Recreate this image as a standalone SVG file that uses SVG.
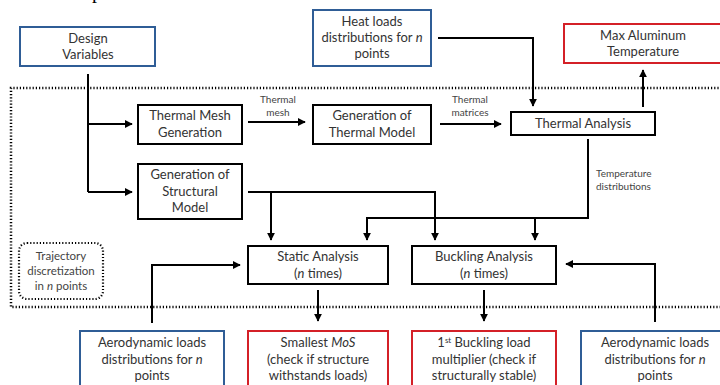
<svg xmlns="http://www.w3.org/2000/svg" width="720" height="385" viewBox="0 0 720 385">
  <defs>
    <marker id="arr" viewBox="0 0 10 10" refX="9" refY="5" markerWidth="4" markerHeight="4" orient="auto-start-reverse" markerUnits="strokeWidth">
      <path d="M0,0 L10,5 L0,10 z" fill="#000"/>
    </marker>
    <style>
      .box { fill: #fff; stroke: #000; stroke-width: 2; }
      .in { fill: #fff; stroke: #2f5d96; stroke-width: 2; }
      .out { fill: #fff; stroke: #d42027; stroke-width: 2; }
      .t { font-family: Lato, "Open Sans", "Liberation Sans", sans-serif; font-size: 13px; fill: #333; text-anchor: middle; }
      .s { font-family: Lato, "Open Sans", "Liberation Sans", sans-serif; font-size: 10px; fill: #444; text-anchor: middle; }
      .sl { font-family: Lato, "Open Sans", "Liberation Sans", sans-serif; font-size: 10px; fill: #444; text-anchor: start; }
      .tr { font-family: Lato, "Open Sans", "Liberation Sans", sans-serif; font-size: 11.5px; fill: #444; text-anchor: middle; }
      .ln { fill: none; stroke: #000; stroke-width: 2; }
      .dot { fill: none; stroke: #000; stroke-width: 2.5; stroke-dasharray: 1.2 2; }
    </style>
  </defs>

  <rect width="720" height="385" fill="#fff"/>

  <!-- descender of a caption cut by the frame -->
  <text x="92" y="-2" font-family="Liberation Serif, serif" font-size="20" fill="#000">p</text>

  <!-- loop boundary (dotted frame) -->
  <path class="dot" d="M725,88 H11 V307 H725"/>

  <!-- connectors -->
  <g id="connectors">
    <path class="ln" d="M88,74 V192"/>
    <path class="ln" d="M88,124 H132" marker-end="url(#arr)"/>
    <path class="ln" d="M88,192 H132" marker-end="url(#arr)"/>
    <path class="ln" d="M248,122 H305" marker-end="url(#arr)"/>
    <path class="ln" d="M440,124 H501" marker-end="url(#arr)"/>
    <path class="ln" d="M438,38 H533 V106" marker-end="url(#arr)"/>
    <path class="ln" d="M643,107 V70" marker-end="url(#arr)"/>
    <path class="ln" d="M588,139 V218 H367 V240" marker-end="url(#arr)"/>
    <path class="ln" d="M535,218 V240" marker-end="url(#arr)"/>
    <path class="ln" d="M248,192 H435 V240" marker-end="url(#arr)"/>
    <path class="ln" d="M271,192 V240" marker-end="url(#arr)"/>
    <path class="ln" d="M152,323 V265 H240" marker-end="url(#arr)"/>
    <path class="ln" d="M655,322 V264 H566" marker-end="url(#arr)"/>
    <path class="ln" d="M318,290 V321" marker-end="url(#arr)"/>
    <path class="ln" d="M484,290 V321" marker-end="url(#arr)"/>
    <text class="s" x="278" y="103">Thermal</text>
    <text class="s" x="278" y="116">mesh</text>
    <text class="s" x="470" y="103">Thermal</text>
    <text class="s" x="470" y="116">matrices</text>
    <text class="sl" x="596" y="177">Temperature</text>
    <text class="sl" x="596" y="190">distributions</text>
  </g>

  <g id="design-variables">
    <rect class="in" x="20" y="27" width="135" height="39"/>
    <text class="t" x="88" y="43">Design</text>
    <text class="t" x="88" y="59">Variables</text>
  </g>

  <g id="heat-loads">
    <rect class="in" x="313" y="10" width="118" height="56"/>
    <text class="t" x="372" y="26">Heat loads</text>
    <text class="t" x="372" y="42">distributions for <tspan font-style="italic">n</tspan></text>
    <text class="t" x="372" y="58">points</text>
  </g>

  <g id="max-temperature">
    <rect class="out" x="564" y="24" width="165" height="39"/>
    <text class="t" x="643" y="40">Max Aluminum</text>
    <text class="t" x="643" y="56">Temperature</text>
  </g>

  <g id="thermal-mesh">
    <rect class="box" x="138" y="105" width="104" height="39"/>
    <text class="t" x="190" y="120">Thermal Mesh</text>
    <text class="t" x="190" y="137">Generation</text>
  </g>

  <g id="thermal-model">
    <rect class="box" x="313" y="105" width="118" height="39"/>
    <text class="t" x="372" y="120">Generation of</text>
    <text class="t" x="372" y="137">Thermal Model</text>
  </g>

  <g id="thermal-analysis">
    <rect class="box" x="511" y="112" width="144" height="23"/>
    <text class="t" x="583" y="128">Thermal Analysis</text>
  </g>

  <g id="structural-model">
    <rect class="box" x="138" y="164" width="104" height="55"/>
    <text class="t" x="190" y="179">Generation of</text>
    <text class="t" x="190" y="196">Structural</text>
    <text class="t" x="190" y="212">Model</text>
  </g>

  <g id="trajectory">
    <rect x="19" y="243" width="84" height="56" rx="8" fill="none" stroke="#000" stroke-width="2.2" stroke-dasharray="1.2 2"/>
    <text class="tr" x="61" y="260">Trajectory</text>
    <text class="tr" x="61" y="275">discretization</text>
    <text class="tr" x="61" y="290">in <tspan font-style="italic">n</tspan> points</text>
  </g>

  <g id="static-analysis">
    <rect class="box" x="248" y="246" width="140" height="38"/>
    <text class="t" x="318" y="261">Static Analysis</text>
    <text class="t" x="318" y="278">(<tspan font-style="italic">n</tspan> times)</text>
  </g>

  <g id="buckling-analysis">
    <rect class="box" x="412" y="246" width="144" height="38"/>
    <text class="t" x="484" y="261">Buckling Analysis</text>
    <text class="t" x="484" y="278">(<tspan font-style="italic">n</tspan> times)</text>
  </g>

  <g id="aero-loads-left">
    <rect class="in" x="80" y="331" width="144" height="60"/>
    <text class="t" x="152" y="347">Aerodynamic loads</text>
    <text class="t" x="152" y="364">distributions for <tspan font-style="italic">n</tspan></text>
    <text class="t" x="152" y="380">points</text>
  </g>

  <g id="smallest-mos">
    <rect class="out" x="248" y="331" width="140" height="60"/>
    <text class="t" x="318" y="347">Smallest <tspan font-style="italic">MoS</tspan></text>
    <text class="t" x="318" y="364">(check if structure</text>
    <text class="t" x="318" y="380">withstands loads)</text>
  </g>

  <g id="buckling-multiplier">
    <rect class="out" x="412" y="331" width="144" height="60"/>
    <text class="t" x="484" y="347">1<tspan font-size="8" dy="-4">st</tspan><tspan dy="4"> Buckling load</tspan></text>
    <text class="t" x="484" y="364">multiplier (check if</text>
    <text class="t" x="484" y="380">structurally stable)</text>
  </g>

  <g id="aero-loads-right">
    <rect class="in" x="581" y="331" width="150" height="60"/>
    <text class="t" x="655" y="347">Aerodynamic loads</text>
    <text class="t" x="655" y="364">distributions for <tspan font-style="italic">n</tspan></text>
    <text class="t" x="655" y="380">points</text>
  </g>
</svg>
